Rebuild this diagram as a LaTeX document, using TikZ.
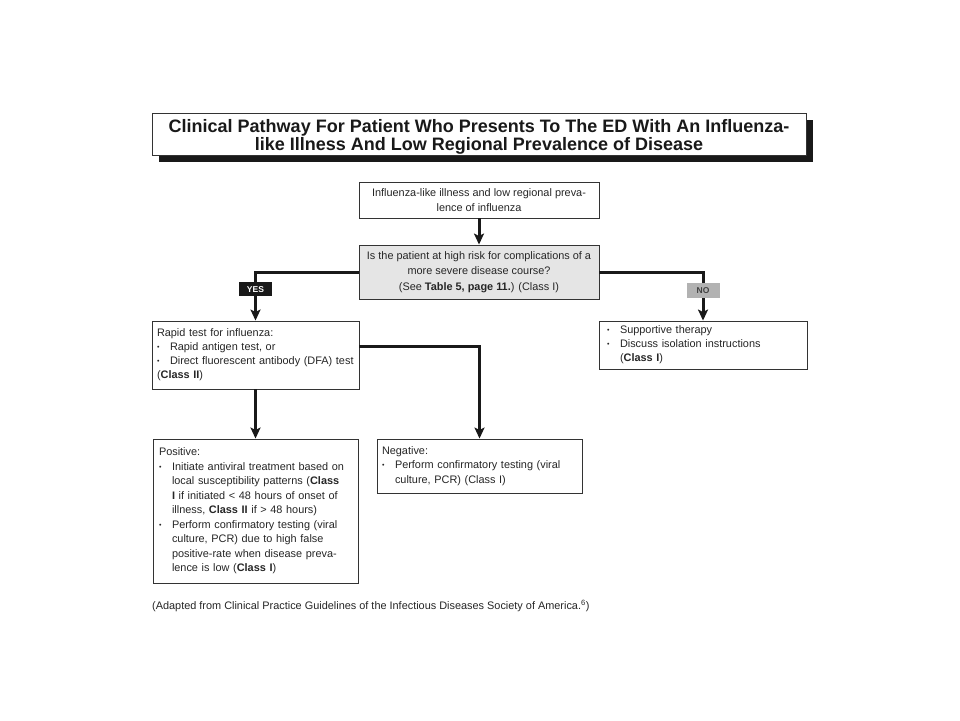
\documentclass[tikz,border=0pt]{standalone}
\usepackage{fontspec}
\setmainfont{Liberation Sans}
\usetikzlibrary{arrows.meta,shadows,calc}
\newcommand{\B}{\makebox[13pt][l]{\raisebox{.15ex}{\scriptsize•}}}
\newcommand{\I}{\hspace*{13pt}}
\begin{document}
\begin{tikzpicture}[x=1pt,y=-1pt,
  box/.style={draw=black!80,line width=0.9pt,fill=white,inner xsep=5pt,inner ysep=0pt,
    font=\fontsize{10.9}{14.5}\selectfont,text=black!85},
  cbox/.style={box,align=center},
  lbox/.style={box,align=left},
  conn/.style={line width=3pt,black!90,-{Stealth[length=11pt,width=10pt,inset=2.5pt]}},
  lab/.style={font=\bfseries\fontsize{8.5}{9}\selectfont,inner sep=0pt,minimum width=33pt,minimum height=14pt}
]
\fill[white] (0,0) rectangle (960,720);
\node[draw=black!80,line width=0.9pt,fill=white,minimum width=654pt,minimum height=42pt,
  inner sep=0pt,
  drop shadow={shadow xshift=7pt,shadow yshift=-7pt,fill=black!90,opacity=1}]
  (title) at (479,134) {};
\node[inner sep=0pt,align=center,font=\bfseries\fontsize{18}{18}\selectfont,text=black!90]
  (titletext) at (479,137) {Clinical Pathway For Patient Who Presents To The ED With An Influenza-\\like Illness And Low Regional Prevalence of Disease};
\node[cbox,minimum width=240pt,minimum height=36pt] (b1) at (479,200)
  {Influenza-like illness and low regional preva-\\lence of influenza};
\node[cbox,fill=black!10,minimum width=240pt,minimum height=54pt,font=\fontsize{10.9}{15.5}\selectfont] (b2) at (479,272)
  {Is the patient at high risk for complications of a\\more severe disease course?\\(See \textbf{Table 5, page 11.}) (Class I)};
\node[lbox,minimum width=207pt,text width=197pt,minimum height=68pt,font=\fontsize{10.9}{14}\selectfont] (b3) at (255.5,355)
  {Rapid test for influenza:\\\B Rapid antigen test, or\\\B Direct fluorescent antibody (DFA) test\\(\textbf{Class II})};
\node[lbox,minimum width=208pt,text width=192pt,inner xsep=8pt,minimum height=48pt,font=\fontsize{10.9}{14}\selectfont] (b4) at (703,345)
  {\B Supportive therapy\\\B Discuss isolation instructions\\\I(\textbf{Class I})};
\node[lbox,minimum width=205pt,text width=193pt,inner xsep=6pt,minimum height=144pt] (b5) at (255.5,511)
  {Positive:\\\B Initiate antiviral treatment based on\\\I local susceptibility patterns (\textbf{Class}\\\I\textbf{I} if initiated < 48 hours of onset of\\\I illness, \textbf{Class II} if > 48 hours)\\\B Perform confirmatory testing (viral\\\I culture, PCR) due to high false\\\I positive-rate when disease preva-\\\I lence is low (\textbf{Class I})};
\node[lbox,minimum width=205pt,text width=195pt,minimum height=54pt] (b6) at (479.5,466)
  {Negative:\\\B Perform confirmatory testing (viral\\\I culture, PCR) (Class I)};
\node[anchor=west,inner sep=0pt,font=\fontsize{10.9}{12}\selectfont,text=black!85] (foot) at (152,606)
  {(Adapted from Clinical Practice Guidelines of the Infectious Diseases Society of America.\textsuperscript{6})};
% connectors
\coordinate (yesc) at (b3.north |- b2.west);
\coordinate (noc) at (b4.north |- b2.east);
\coordinate (b3r) at ($(b3.north east)!0.37!(b3.south east)$);
\coordinate (negc) at (b6.north |- b3r);
\draw[conn] (b1) -- (b2);
\draw[conn] (b2.west) -- (yesc) -- (b3.north);
\draw[conn] (b2.east) -- (noc) -- (b4.north);
\draw[conn] (b3) -- (b5);
\draw[conn] (b3r) -- (negc) -- (b6.north);
\node[lab,fill=black!90,text=white] (yes) at ($(yesc)!0.36!(b3.north)$) {YES};
\node[lab,fill=black!30,text=black!75,minimum height=15pt] (no) at ($(noc)!0.38!(b4.north)$) {NO};
\end{tikzpicture}
\end{document}
